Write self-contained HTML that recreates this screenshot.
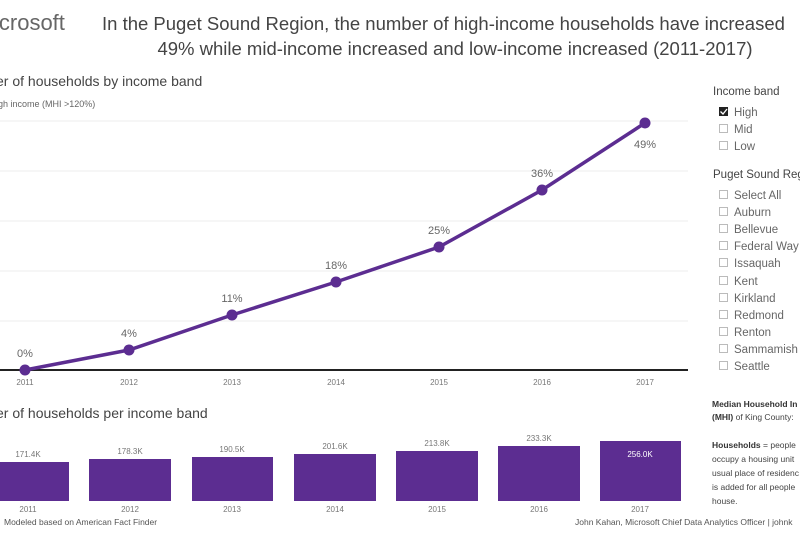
<!DOCTYPE html>
<html><head><style>
body{margin:0;width:800px;height:533px;background:#fff;overflow:hidden;font-family:"Liberation Sans",sans-serif;}
</style></head><body>
<svg width="800" height="533" xmlns="http://www.w3.org/2000/svg" font-family="Liberation Sans, sans-serif">
<text x="-6" y="30" font-size="22" fill="#666">icrosoft</text>
<text x="102" y="30" font-size="18.5" fill="#444">In the Puget Sound Region, the number of  high-income households have increased</text>
<text x="455" y="55" font-size="18.5" fill="#444" text-anchor="middle">49% while mid-income increased  and low-income increased  (2011-2017)</text>
<text x="-4" y="86" font-size="14" fill="#444">er of households by income band</text>
<text x="-2" y="107" font-size="9" fill="#666">gh income (MHI &gt;120%)</text>
<g stroke="#eee" stroke-width="1">
<line x1="0" y1="121" x2="688" y2="121"/><line x1="0" y1="171" x2="688" y2="171"/>
<line x1="0" y1="221" x2="688" y2="221"/><line x1="0" y1="271" x2="688" y2="271"/>
<line x1="0" y1="321" x2="688" y2="321"/></g>
<line x1="0" y1="370" x2="688" y2="370" stroke="#222" stroke-width="2"/>
<polyline points="25,370 129,350 232,315 336,282 439,247 542,190 645,123" fill="none" stroke="#5c2d91" stroke-width="3.5"/>
<g fill="#5c2d91"><circle cx="25" cy="370" r="5.5"/><circle cx="129" cy="350" r="5.5"/><circle cx="232" cy="315" r="5.5"/><circle cx="336" cy="282" r="5.5"/><circle cx="439" cy="247" r="5.5"/><circle cx="542" cy="190" r="5.5"/><circle cx="645" cy="123" r="5.5"/></g>
<g font-size="11" fill="#666" text-anchor="middle">
<text x="25" y="357">0%</text><text x="129" y="337">4%</text><text x="232" y="302">11%</text><text x="336" y="269">18%</text><text x="439" y="234">25%</text><text x="542" y="177">36%</text><text x="645" y="148">49%</text></g>
<g font-size="8" fill="#777" text-anchor="middle">
<text x="25" y="385">2011</text><text x="129" y="385">2012</text><text x="232" y="385">2013</text><text x="336" y="385">2014</text><text x="439" y="385">2015</text><text x="542" y="385">2016</text><text x="645" y="385">2017</text></g>
<text x="-4" y="418" font-size="14" fill="#444">er of households per income band</text>
<g fill="#5c2d91">
<rect x="0" y="462" width="69" height="39"/><rect x="89" y="459" width="82" height="42"/><rect x="192" y="457" width="81" height="44"/><rect x="294" y="454" width="82" height="47"/><rect x="396" y="451" width="82" height="50"/><rect x="498" y="446" width="82" height="55"/><rect x="600" y="441" width="81" height="60"/></g>
<g font-size="8" fill="#777" text-anchor="middle">
<text x="28" y="457">171.4K</text><text x="130" y="454">178.3K</text><text x="232" y="452">190.5K</text><text x="335" y="449">201.6K</text><text x="437" y="446">213.8K</text><text x="539" y="441">233.3K</text><text x="640" y="457" fill="#fff">256.0K</text>
<text x="28" y="512">2011</text><text x="130" y="512">2012</text><text x="232" y="512">2013</text><text x="335" y="512">2014</text><text x="437" y="512">2015</text><text x="539" y="512">2016</text><text x="640" y="512">2017</text></g>
<text x="4" y="525" font-size="8.5" fill="#555">Modeled based on American Fact Finder</text>
<text x="575" y="525" font-size="8.5" fill="#555">John Kahan, Microsoft Chief Data Analytics Officer |  johnk</text>
<text x="713" y="95" font-size="11.5" fill="#444">Income band</text>
<g font-size="11.5" fill="#666">
<rect x="719" y="107" width="9" height="9" fill="#222"/><path d="M720.5 111.5l2.5 2.5 4-5" stroke="#fff" stroke-width="1.3" fill="none"/>
<text x="734" y="116">High</text><text x="734" y="133">Mid</text><text x="734" y="150">Low</text>
<text x="713" y="178" fill="#444">Puget Sound Reg</text>
<text x="734" y="199">Select All</text><text x="734" y="216">Auburn</text><text x="734" y="233">Bellevue</text><text x="734" y="250">Federal Way</text><text x="734" y="267">Issaquah</text><text x="734" y="285">Kent</text><text x="734" y="302">Kirkland</text><text x="734" y="319">Redmond</text><text x="734" y="336">Renton</text><text x="734" y="353">Sammamish</text><text x="734" y="370">Seattle</text></g>
<g fill="none" stroke="#bbb" stroke-width="1">
<rect x="719.5" y="124.5" width="8" height="8"/><rect x="719.5" y="141.5" width="8" height="8"/>
<rect x="719.5" y="190.5" width="8" height="8"/><rect x="719.5" y="207.5" width="8" height="8"/><rect x="719.5" y="224.5" width="8" height="8"/><rect x="719.5" y="241.5" width="8" height="8"/><rect x="719.5" y="258.5" width="8" height="8"/><rect x="719.5" y="276.5" width="8" height="8"/><rect x="719.5" y="293.5" width="8" height="8"/><rect x="719.5" y="310.5" width="8" height="8"/><rect x="719.5" y="327.5" width="8" height="8"/><rect x="719.5" y="344.5" width="8" height="8"/><rect x="719.5" y="361.5" width="8" height="8"/></g>
<g font-size="8.5" fill="#444">
<text x="712" y="407" font-weight="bold" fill="#333">Median Household In</text>
<text x="712" y="420"><tspan font-weight="bold" fill="#333">(MHI)</tspan> of King County:</text>
<text x="712" y="448"><tspan font-weight="bold" fill="#333">Households</tspan> = people</text>
<text x="712" y="462">occupy a housing unit</text>
<text x="712" y="476">usual place of residenc</text>
<text x="712" y="490">is added for all people</text>
<text x="712" y="504">house.</text></g>
</svg>
</body></html>
